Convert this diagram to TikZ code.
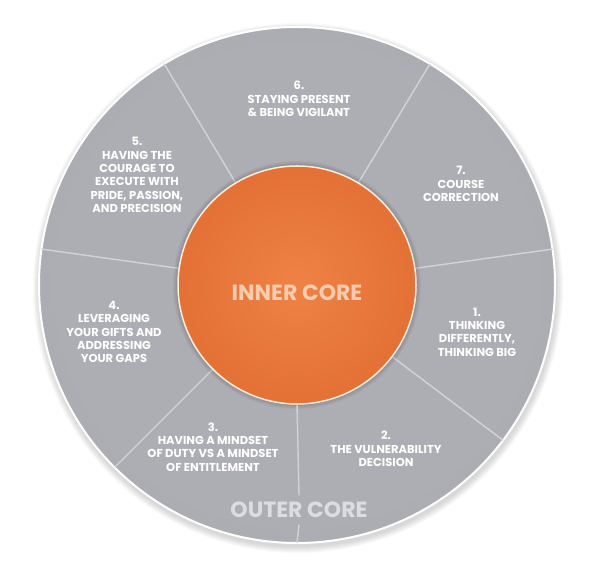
\documentclass[tikz,border=0pt]{standalone}
\usepackage{fontspec}
\setmainfont{Poppins}
\definecolor{ringlight}{HTML}{ADAEB4}
\definecolor{ringdark}{HTML}{97989F}
\definecolor{corelight}{HTML}{EE8244}
\definecolor{coredark}{HTML}{D95F27}
\definecolor{divider}{HTML}{D2D3D7}
\definecolor{peach}{HTML}{F7CBB0}
\definecolor{outertext}{HTML}{DCDDE1}
\pgfdeclareradialshading{ringshade}{\pgfpoint{0bp}{0bp}}{color(0bp)=(ringlight); color(23bp)=(ringlight); color(50bp)=(ringdark)}
\pgfdeclareradialshading{coreshade}{\pgfpoint{0bp}{0bp}}{color(0bp)=(corelight); color(50bp)=(coredark)}
\tikzset{
    seglabel/.style={text=white, align=center, font=\bfseries\fontsize{11.5}{13.4}\selectfont},
    bigtitle/.style={font=\bfseries\fontsize{22}{22}\selectfont},
    divline/.style={draw=divider, line width=1.4pt}
}
\begin{document}
\begin{tikzpicture}[x=1pt, y=1pt]
        \useasboundingbox (0,0) rectangle (600,578);
        \coordinate (c) at (297,293);

        % Sombra exterior
        \foreach \r in {1,...,7} {
            \fill[black, opacity=0.025] (c) ++(1,-3) circle (258+\r);
        }
        \node[circle, minimum size=516pt, inner sep=0pt, outer sep=0pt,
              shading=ringshade, draw=white, line width=2pt] (ring) at (c) {};

        % Separadores
        \foreach \a in {121, 59, 8, 323, 225, 172} {
            \draw[divline] (c) ++(\a:110) -- (ring.\a);
        }

        % Nucleo
        \foreach \r in {1,...,5} {
            \fill[black, opacity=0.035] (c) circle (119+\r);
        }
        \node[circle, minimum size=238pt, inner sep=0pt, outer sep=0pt,
              shading=coreshade, draw=white!85!orange, line width=1.5pt] (core) at (c) {};
        \node[bigtitle, text=peach] (inner) at (297,285) {INNER CORE};

        % Etiquetas
        \node[seglabel] (one) at (477,246) {1.\\THINKING\\DIFFERENTLY,\\THINKING BIG};
        \node[seglabel] (two) at (386,129) {2.\\THE VULNERABILITY\\DECISION};
        \node[seglabel] (three) at (213,131) {3.\\HAVING A MINDSET\\OF DUTY VS A MINDSET\\OF ENTITLEMENT};
        \node[seglabel] (four) at (114,246) {4.\\LEVERAGING\\YOUR GIFTS AND\\ADDRESSING\\YOUR GAPS};
        \node[seglabel] (five) at (137,403) {5.\\HAVING THE\\COURAGE TO\\EXECUTE WITH\\PRIDE, PASSION,\\AND PRECISION};
        \node[seglabel] (six) at (299,479) {6.\\STAYING PRESENT\\\& BEING VIGILANT};
        \node[seglabel] (seven) at (461,394) {7.\\COURSE\\CORRECTION};

        \node[bigtitle, text=outertext, text height=15pt, text depth=0pt, inner sep=7pt] (outer) at (299,68) {OUTER CORE};
        \draw[divline] (core.270) -- (outer.north);
        \draw[divline] (outer.south) -- (ring.270);
    \end{tikzpicture}
\end{document}
